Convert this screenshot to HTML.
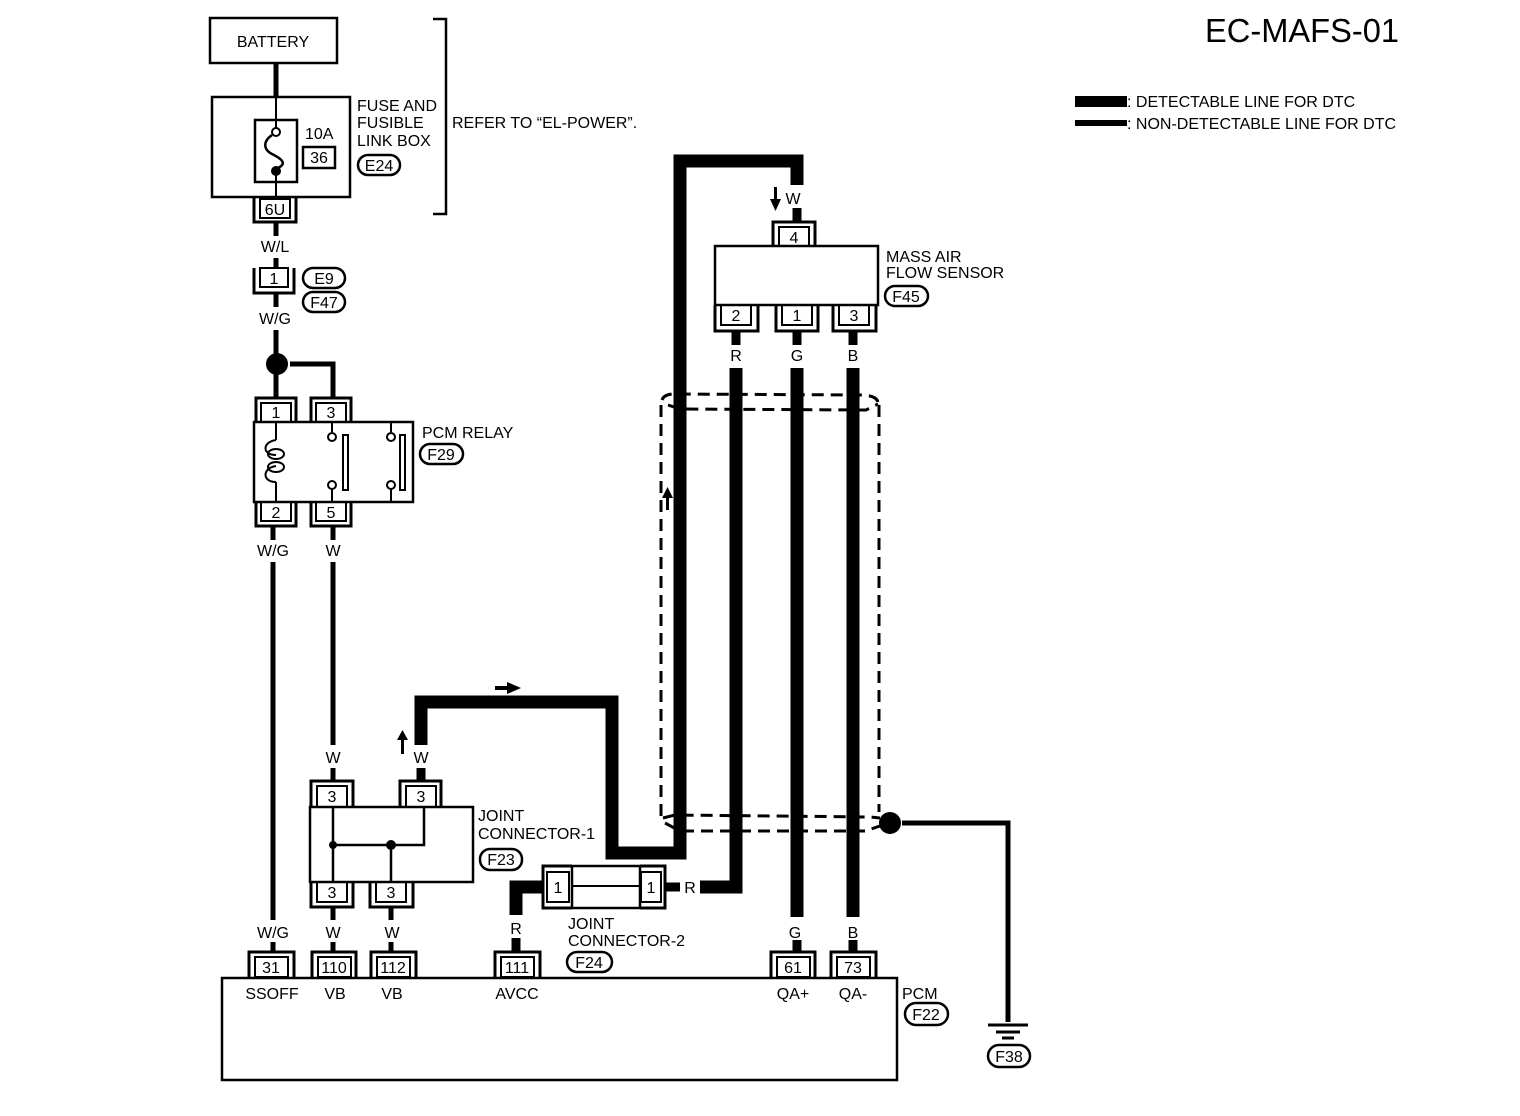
<!DOCTYPE html>
<html><head><meta charset="utf-8"><style>
html,body{margin:0;padding:0;background:#fff;}
svg{display:block;font-family:"Liberation Sans",Arial,sans-serif;}
text{fill:#000;}
</style></head><body>
<svg width="1520" height="1116" viewBox="0 0 1520 1116" xmlns="http://www.w3.org/2000/svg">
<rect width="1520" height="1116" fill="#fff"/>

<text x="1205" y="42" font-size="33" textLength="194" lengthAdjust="spacingAndGlyphs">EC-MAFS-01</text>
<rect x="1075" y="96" width="52" height="11" fill="#000"/>
<rect x="1075" y="120" width="52" height="6" fill="#000"/>
<text x="1127" y="107" font-size="16">: DETECTABLE LINE FOR DTC</text>
<text x="1127" y="129" font-size="16">: NON-DETECTABLE LINE FOR DTC</text>

<g fill="none" stroke="#000">
<rect x="210" y="18" width="127" height="45" stroke-width="2.5"/>
<line x1="276" y1="63" x2="276" y2="97" stroke-width="5"/>
<rect x="212" y="97" width="138" height="100" stroke-width="2.5"/>
<rect x="255" y="120" width="42" height="62" stroke-width="2.5"/>
<line x1="276" y1="97" x2="276" y2="128" stroke-width="2"/>
<circle cx="276" cy="132" r="4" stroke-width="2"/>
<path d="M272,135 C262,142 264,150 272,154 C284,160 286,164 278,168" stroke-width="2.5"/>
<line x1="276" y1="170" x2="276" y2="198" stroke-width="2"/>
<rect x="303" y="147" width="32" height="21" stroke-width="2.5"/>
<path d="M433,19 H446 V214 H433" stroke-width="2.5"/>
</g>
<circle cx="276" cy="171" r="5" fill="#000"/>
<text x="273" y="47" font-size="16" text-anchor="middle">BATTERY</text>
<text x="305" y="139" font-size="16">10A</text>
<text x="319" y="163" font-size="16" text-anchor="middle">36</text>
<text x="357" y="111" font-size="16">FUSE AND</text>
<text x="357" y="128" font-size="16">FUSIBLE</text>
<text x="357" y="146" font-size="16">LINK BOX</text>
<text x="452" y="128" font-size="16">REFER TO “EL-POWER”.</text>

<g fill="none" stroke="#000" stroke-width="2.5">
<rect x="358" y="155" width="42" height="20" rx="10"/>
<rect x="303" y="268" width="42" height="20" rx="10"/>
<rect x="303" y="292" width="42" height="20" rx="10"/>
<rect x="420" y="444" width="43" height="20" rx="10"/>
<rect x="885" y="286" width="43" height="20" rx="10"/>
<rect x="480" y="849" width="42" height="21" rx="10"/>
<rect x="567" y="952" width="45" height="20" rx="10"/>
<rect x="905" y="1003" width="43" height="22" rx="11"/>
<rect x="988" y="1045" width="42" height="22" rx="11"/>
</g>
<g font-size="16" text-anchor="middle">
<text x="379" y="171">E24</text>
<text x="324" y="284">E9</text>
<text x="324" y="308">F47</text>
<text x="441" y="460">F29</text>
<text x="906" y="302">F45</text>
<text x="501" y="865">F23</text>
<text x="589" y="968">F24</text>
<text x="926" y="1020">F22</text>
<text x="1009" y="1062">F38</text>
</g>

<g fill="none" stroke="#000">
<path d="M254,198 V222 H296 V198" stroke-width="3"/><rect x="260" y="199" width="30" height="19" stroke-width="2"/>
<path d="M254,268 V293 H294 V268" stroke-width="3"/><rect x="260" y="268" width="28" height="19" stroke-width="2"/>
<path d="M256,422 V398 H296 V422" stroke-width="3"/><rect x="261" y="403" width="30" height="19" stroke-width="2"/>
<path d="M311,422 V398 H351 V422" stroke-width="3"/><rect x="316" y="403" width="30" height="19" stroke-width="2"/>
<path d="M256,502 V526 H296 V502" stroke-width="3"/><rect x="261" y="502" width="30" height="19" stroke-width="2"/>
<path d="M311,502 V526 H351 V502" stroke-width="3"/><rect x="316" y="502" width="30" height="19" stroke-width="2"/>
<path d="M311,807 V781 H353 V807" stroke-width="3"/><rect x="317" y="786" width="30" height="21" stroke-width="2"/>
<path d="M400,807 V781 H441 V807" stroke-width="3"/><rect x="406" y="786" width="30" height="21" stroke-width="2"/>
<path d="M311,882 V907 H353 V882" stroke-width="3"/><rect x="317" y="882" width="30" height="20" stroke-width="2"/>
<path d="M370,882 V907 H413 V882" stroke-width="3"/><rect x="376" y="882" width="30" height="20" stroke-width="2"/>
<path d="M249,978 V952 H294 V978" stroke-width="3"/><rect x="255" y="957" width="33" height="20" stroke-width="2"/>
<path d="M312,978 V952 H356 V978" stroke-width="3"/><rect x="318" y="957" width="33" height="20" stroke-width="2"/>
<path d="M371,978 V952 H416 V978" stroke-width="3"/><rect x="377" y="957" width="33" height="20" stroke-width="2"/>
<path d="M495,978 V952 H540 V978" stroke-width="3"/><rect x="501" y="957" width="33" height="20" stroke-width="2"/>
<path d="M771,978 V952 H815 V978" stroke-width="3"/><rect x="777" y="957" width="33" height="20" stroke-width="2"/>
<path d="M831,978 V952 H876 V978" stroke-width="3"/><rect x="837" y="957" width="33" height="20" stroke-width="2"/>
<path d="M773,246 V222 H815 V246" stroke-width="3"/><rect x="779" y="227" width="30" height="19" stroke-width="2"/>
<path d="M715,305 V331 H758 V305" stroke-width="3"/><rect x="721" y="305" width="30" height="20" stroke-width="2"/>
<path d="M776,305 V331 H818 V305" stroke-width="3"/><rect x="782" y="305" width="30" height="20" stroke-width="2"/>
<path d="M833,305 V331 H876 V305" stroke-width="3"/><rect x="839" y="305" width="30" height="20" stroke-width="2"/>
<path d="M572,866 H543 V908 H572" stroke-width="3"/><rect x="547" y="872" width="22" height="30" stroke-width="2"/>
<rect x="572" y="866" width="68" height="42" stroke-width="2.5"/>
<line x1="572" y1="886" x2="640" y2="886" stroke-width="2"/>
<path d="M640,866 H665 V908 H640" stroke-width="3"/><rect x="641" y="872" width="20" height="30" stroke-width="2"/>

<rect x="254" y="422" width="159" height="80" stroke-width="2.5"/>
<rect x="715" y="246" width="163" height="59" stroke-width="2.5"/>
<rect x="310" y="807" width="163" height="75" stroke-width="2.5"/>
<rect x="222" y="978" width="675" height="102" stroke-width="2.5"/>

<path d="M276,422 V440 M276,482 V502" stroke-width="2"/>
<path d="M276,440 C262,442 262,455 276,455" stroke-width="2"/>
<ellipse cx="276" cy="454" rx="8" ry="5" stroke-width="2"/>
<ellipse cx="276" cy="467" rx="8" ry="5" stroke-width="2"/>
<path d="M276,466 C262,468 262,482 276,482" stroke-width="2"/>
<line x1="332" y1="422" x2="332" y2="432" stroke-width="2"/>
<circle cx="332" cy="437" r="4" stroke-width="2"/>
<circle cx="332" cy="485" r="4" stroke-width="2"/>
<line x1="332" y1="489" x2="332" y2="502" stroke-width="2"/>
<rect x="343" y="435" width="5" height="55" stroke-width="2"/>
<line x1="391" y1="422" x2="391" y2="432" stroke-width="2"/>
<circle cx="391" cy="437" r="4" stroke-width="2"/>
<circle cx="391" cy="485" r="4" stroke-width="2"/>
<line x1="391" y1="489" x2="391" y2="502" stroke-width="2"/>
<rect x="400" y="435" width="5" height="55" stroke-width="2"/>

<path d="M333,807 V882 M333,845 H424 V807 M391,845 V882" stroke-width="2.5"/>

<line x1="276" y1="222" x2="276" y2="236" stroke-width="5"/>
<line x1="276" y1="258" x2="276" y2="268" stroke-width="5"/>
<line x1="276" y1="293" x2="276" y2="307" stroke-width="5"/>
<line x1="276" y1="330" x2="276" y2="398" stroke-width="5"/>
<path d="M290,364 H333 V398" stroke-width="5"/>
<line x1="273" y1="526" x2="273" y2="540" stroke-width="5"/>
<line x1="273" y1="562" x2="273" y2="920" stroke-width="5"/>
<line x1="333" y1="526" x2="333" y2="540" stroke-width="5"/>
<line x1="333" y1="562" x2="333" y2="745" stroke-width="5"/>
<line x1="333" y1="768" x2="333" y2="781" stroke-width="5"/>
<line x1="333" y1="907" x2="333" y2="920" stroke-width="5"/>
<line x1="333" y1="942" x2="333" y2="952" stroke-width="5"/>
<line x1="391" y1="907" x2="391" y2="920" stroke-width="5"/>
<line x1="391" y1="942" x2="391" y2="952" stroke-width="5"/>
<line x1="273" y1="942" x2="273" y2="952" stroke-width="5"/>
<path d="M902,823 H1008 V1022" stroke-width="5"/>
<line x1="988" y1="1025" x2="1028" y2="1025" stroke-width="3"/>
<line x1="996" y1="1032" x2="1020" y2="1032" stroke-width="3"/>
<line x1="1002" y1="1038" x2="1014" y2="1038" stroke-width="3"/>

<path d="M421,745 V702 H612 V853 H680 V161 H797 V185" stroke-width="13"/>
<line x1="421" y1="768" x2="421" y2="781" stroke-width="9"/>
<line x1="797" y1="208" x2="797" y2="222" stroke-width="9"/>
<line x1="736" y1="331" x2="736" y2="345" stroke-width="9"/>
<line x1="797" y1="331" x2="797" y2="345" stroke-width="9"/>
<line x1="853" y1="331" x2="853" y2="345" stroke-width="9"/>
<path d="M736,368 V887 H700" stroke-width="13"/>
<line x1="665" y1="887" x2="680" y2="887" stroke-width="9"/>
<line x1="797" y1="368" x2="797" y2="917" stroke-width="13"/>
<line x1="853" y1="368" x2="853" y2="917" stroke-width="13"/>
<line x1="797" y1="940" x2="797" y2="952" stroke-width="9"/>
<line x1="853" y1="940" x2="853" y2="952" stroke-width="9"/>
<path d="M543,887 H516 V915" stroke-width="13"/>
<line x1="516" y1="938" x2="516" y2="952" stroke-width="9"/>

<g stroke-width="3" stroke-dasharray="12,7">
<path d="M662,400 Q664,394 675,394 L860,395 Q876,395 878,402"/>
<path d="M668,405 L680,409 L866,410 L878,404"/>
<line x1="661" y1="405" x2="661" y2="822"/>
<line x1="879" y1="405" x2="879" y2="812"/>
<path d="M663,818 L675,815 L870,817 L880,818"/>
<path d="M665,823 L680,831 L865,831 L880,826"/>
</g>
</g>
<circle cx="277" cy="364" r="11" fill="#000"/>
<circle cx="890" cy="823" r="11" fill="#000"/>
<circle cx="333" cy="845" r="4" fill="#000"/>
<circle cx="391" cy="845" r="5" fill="#000"/>

<g fill="#000">
<rect x="401" y="738" width="3" height="16"/><polygon points="397,740 408,740 402.5,730"/>
<rect x="495" y="686" width="14" height="4"/><polygon points="507,682 507,694 521,688"/>
<rect x="774" y="187" width="3" height="14"/><polygon points="770,199 781,199 775.5,211"/>
<rect x="666" y="496" width="3" height="14"/><polygon points="662,498 673,498 667.5,487"/>
</g>

<g font-size="16" text-anchor="middle">
<text x="275" y="215">6U</text>
<text x="275" y="252">W/L</text>
<text x="274" y="284">1</text>
<text x="275" y="324">W/G</text>
<text x="276" y="418">1</text>
<text x="331" y="418">3</text>
<text x="276" y="518">2</text>
<text x="331" y="518">5</text>
<text x="273" y="556">W/G</text>
<text x="333" y="556">W</text>
<text x="333" y="763">W</text>
<text x="421" y="763">W</text>
<text x="332" y="802">3</text>
<text x="421" y="802">3</text>
<text x="332" y="898">3</text>
<text x="391" y="898">3</text>
<text x="273" y="938">W/G</text>
<text x="333" y="938">W</text>
<text x="392" y="938">W</text>
<text x="516" y="934">R</text>
<text x="271" y="973">31</text>
<text x="334" y="973">110</text>
<text x="393" y="973">112</text>
<text x="517" y="973">111</text>
<text x="793" y="973">61</text>
<text x="853" y="973">73</text>
<text x="272" y="999">SSOFF</text>
<text x="335" y="999">VB</text>
<text x="392" y="999">VB</text>
<text x="517" y="999">AVCC</text>
<text x="793" y="999">QA+</text>
<text x="853" y="999">QA-</text>
<text x="795" y="938">G</text>
<text x="853" y="938">B</text>
<text x="793" y="204">W</text>
<text x="794" y="243">4</text>
<text x="736" y="321">2</text>
<text x="797" y="321">1</text>
<text x="854" y="321">3</text>
<text x="736" y="361">R</text>
<text x="797" y="361">G</text>
<text x="853" y="361">B</text>
<text x="558" y="893">1</text>
<text x="651" y="893">1</text>
<text x="690" y="893">R</text>
</g>
<g font-size="16">
<text x="422" y="438">PCM RELAY</text>
<text x="886" y="262">MASS AIR</text>
<text x="886" y="278">FLOW SENSOR</text>
<text x="478" y="821">JOINT</text>
<text x="478" y="839">CONNECTOR-1</text>
<text x="568" y="929">JOINT</text>
<text x="568" y="946">CONNECTOR-2</text>
<text x="902" y="999">PCM</text>
</g>
</svg>
</body></html>
